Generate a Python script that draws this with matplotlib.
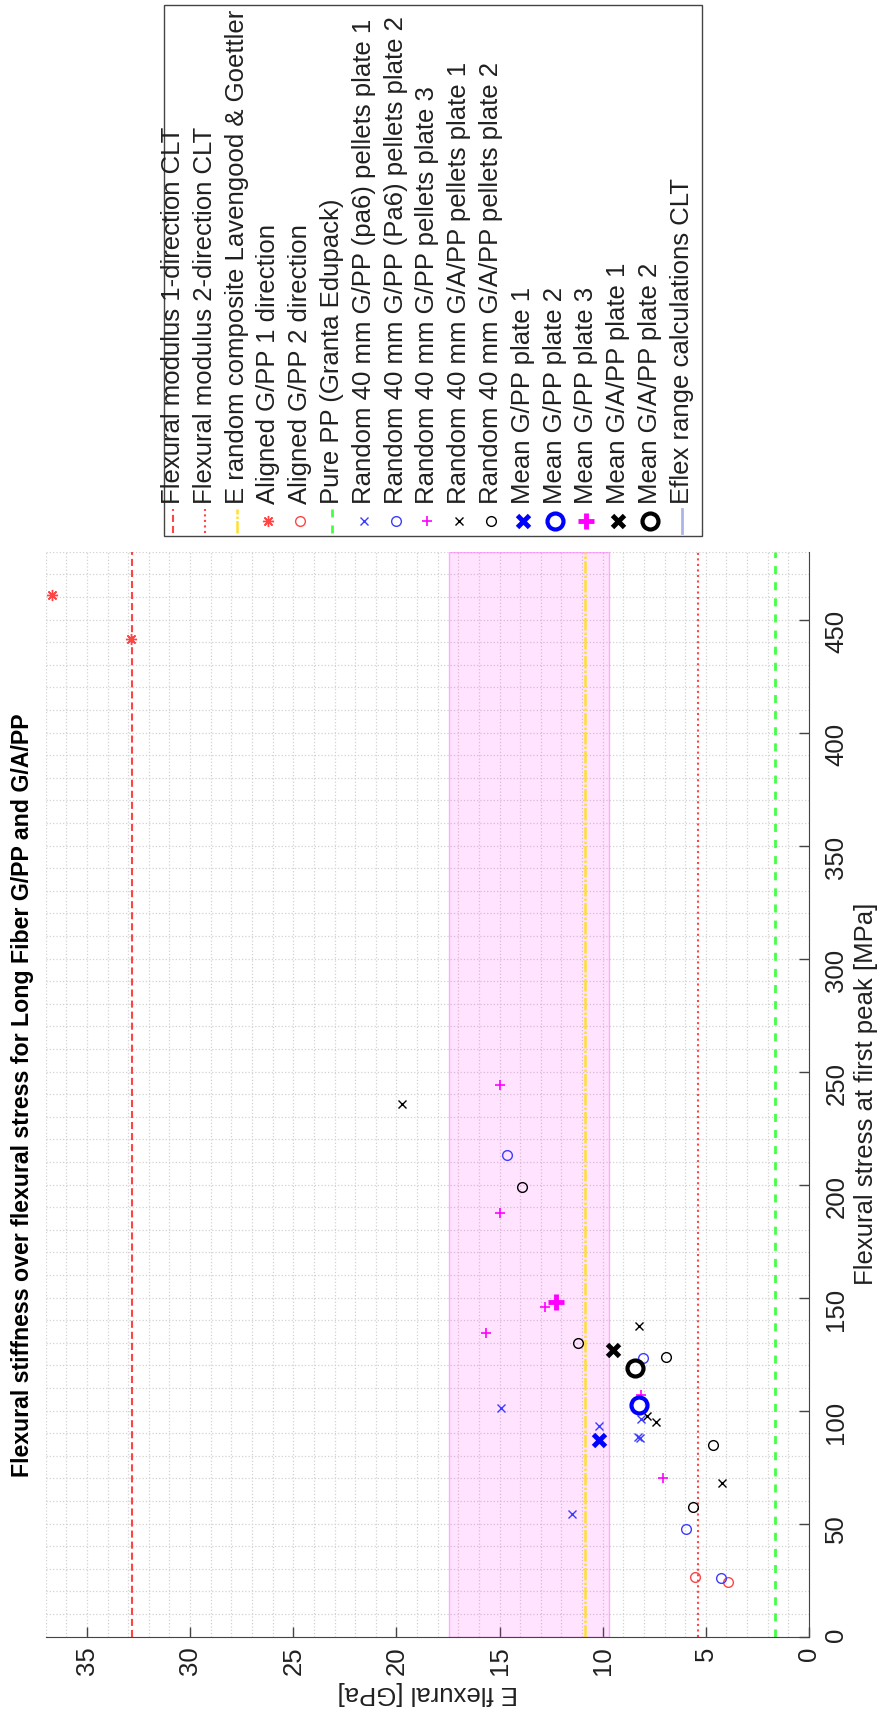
import numpy as np
import matplotlib
matplotlib.use('Agg')
import matplotlib.pyplot as plt
from matplotlib.lines import Line2D
from matplotlib.patches import Rectangle
from matplotlib.ticker import MultipleLocator

plt.rcParams['font.family'] = ['Liberation Sans', 'DejaVu Sans']
plt.rcParams['font.size'] = 18.5

# reference moduli [GPa]
E_clt_1 = 32.8
E_clt_2 = 5.36
E_lavengood = 10.84
E_pure_pp = 1.66
E_range_clt = [9.68, 17.43]

# aligned G/PP (stress [MPa], E [GPa])
aligned1_stress = [441.3, 461.0]
aligned1_E = [32.87, 36.7]
aligned2_stress = [26.5, 24.2]
aligned2_E = [5.52, 3.91]

# random 40 mm pellets plates
gpp1_stress = [101.2, 93.1, 96.5, 88.4, 88.0, 54.5]
gpp1_E = [14.91, 10.20, 8.13, 8.30, 8.20, 11.47]
gpp2_stress = [213.1, 123.5, 47.7, 25.9]
gpp2_E = [14.63, 8.05, 5.95, 4.27]
gpp3_stress = [244.2, 187.4, 145.9, 134.5, 106.8, 70.2]
gpp3_E = [14.96, 14.96, 12.78, 15.64, 8.15, 7.10]
gapp1_stress = [235.5, 137.5, 97.7, 94.8, 68.1]
gapp1_E = [19.72, 8.26, 7.83, 7.41, 4.23]
gapp2_stress = [198.9, 130.1, 123.8, 84.6, 57.5]
gapp2_E = [13.89, 11.20, 6.94, 4.63, 5.60]

legend_labels = [
    'Flexural modulus 1-direction CLT',
    'Flexural modulus 2-direction CLT',
    'E random composite Lavengood & Goettler',
    'Aligned G/PP 1 direction',
    'Aligned G/PP 2 direction',
    'Pure PP (Granta Edupack)',
    'Random 40 mm G/PP (pa6) pellets plate 1',
    'Random 40 mm G/PP (Pa6) pellets plate 2',
    'Random 40 mm G/PP pellets plate 3',
    'Random 40 mm G/A/PP pellets plate 1',
    'Random 40 mm G/A/PP pellets plate 2',
    'Mean G/PP plate 1',
    'Mean G/PP plate 2',
    'Mean G/PP plate 3',
    'Mean G/A/PP plate 1',
    'Mean G/A/PP plate 2',
    'Eflex range calculations CLT',
]

W, H = 893, 1717
fig = plt.figure(figsize=(W / 100, H / 100), dpi=100)
# figure is laid out turned by 90 degrees: E runs right-to-left, stress bottom-to-top
ax = fig.add_axes([45.7 / W, 1 - 1636.7 / H, (809 - 45.7) / W, (1636.7 - 551.7) / H])

red = '#ff4444'
blue_s = '#3c3cff'
handles = []
handles.append(ax.axvline(E_clt_1, color=red, lw=1.5, dashes=(3.4, 1.9), zorder=2))
handles.append(ax.axvline(E_clt_2, color=red, lw=1.5, ls=':', zorder=2))
handles.append(ax.axvline(E_lavengood, color='#ffe030', lw=1.8, dashes=(5, 0.8, 1, 0.8), zorder=2))
handles.append(ax.plot(aligned1_E, aligned1_stress, ls='none', marker=(8, 2, 0), ms=8, mew=1, color=red, zorder=4)[0])
handles.append(ax.plot(aligned2_E, aligned2_stress, ls='none', marker='o', ms=7, mew=1, mfc='none', mec=red, zorder=4)[0])
handles.append(ax.axvline(E_pure_pp, color='#44ff44', lw=2, dashes=(2.9, 2.9), zorder=2))

handles.append(ax.plot(gpp1_E, gpp1_stress, ls='none', marker='x', ms=5.5, mew=1, color=blue_s, zorder=4)[0])
handles.append(ax.plot(gpp2_E, gpp2_stress, ls='none', marker='o', ms=7, mew=1, mfc='none', mec=blue_s, zorder=4)[0])
handles.append(ax.plot(gpp3_E, gpp3_stress, ls='none', marker='+', ms=7.5, mew=1.2, color='#ff00ff', zorder=4)[0])
handles.append(ax.plot(gapp1_E, gapp1_stress, ls='none', marker='x', ms=5.5, mew=1, color='k', zorder=4)[0])
handles.append(ax.plot(gapp2_E, gapp2_stress, ls='none', marker='o', ms=7, mew=1, mfc='none', mec='k', zorder=4)[0])

# plate means
handles.append(ax.plot(np.mean(gpp1_E), np.mean(gpp1_stress), ls='none', marker='x', ms=9, mew=3.5, color='#0000ff', zorder=5)[0])
handles.append(ax.plot(np.mean(gpp2_E), np.mean(gpp2_stress), ls='none', marker='o', ms=11.5, mew=3, mfc='none', mec='#0000ff', zorder=5)[0])
handles.append(ax.plot(np.mean(gpp3_E), np.mean(gpp3_stress), ls='none', marker='+', ms=11, mew=3.5, color='#ff00ff', zorder=5)[0])
handles.append(ax.plot(np.mean(gapp1_E), np.mean(gapp1_stress), ls='none', marker='x', ms=9, mew=3.5, color='k', zorder=5)[0])
handles.append(ax.plot(np.mean(gapp2_E), np.mean(gapp2_stress), ls='none', marker='o', ms=11.5, mew=3, mfc='none', mec='k', zorder=5)[0])

ax.axvspan(*E_range_clt, facecolor=(1, 0, 1, 0.11), edgecolor=(1, 0.4, 1, 0.5), lw=1, zorder=1)

ax.set_xlim(37, 0)
ax.set_ylim(0, 480)
ax.set_xticks(np.arange(0, 36, 5))
ax.set_yticks(np.arange(0, 451, 50))
ax.xaxis.set_minor_locator(MultipleLocator(1))
ax.yaxis.set_minor_locator(MultipleLocator(10))
ax.grid(which='both', ls=':', color='#d2d2d2', lw=0.9)
ax.set_axisbelow(True)
ax.yaxis.tick_right()
ax.yaxis.set_label_position('right')
ax.tick_params(which='major', direction='in', length=7, width=1, color='#444444', labelcolor='#202020')
ax.tick_params(which='minor', length=0)
ax.tick_params(axis='x', labelrotation=90, pad=7)
ax.tick_params(axis='y', labelrotation=90, pad=11)
for s in ['top', 'left']:
    ax.spines[s].set_visible(False)
for s in ['bottom', 'right']:
    ax.spines[s].set_color('#444444')
ax.set_xlabel('E flexural [GPa]', rotation=180, labelpad=4, color='#202020')
ax.set_ylabel('Flexural stress at first peak [MPa]', rotation=90, labelpad=4, color='#202020')

fig.text(23 / W, 1 - 1095 / H, 'Flexural stiffness over flexural stress for Long Fiber G/PP and G/A/PP',
         rotation=90, ha='center', va='center', fontweight='bold', fontsize=16.7)

# legend drawn by hand so the entries can be turned with the rest of the plot
lax = fig.add_axes([0, 0, 1, 1])
lax.set_xlim(0, W)
lax.set_ylim(H, 0)
lax.axis('off')
lax.add_patch(Rectangle((164, 5.5), 538, 531, facecolor='white', edgecolor='#444444', lw=1))
for i, lab in enumerate(legend_labels):
    x = 173 + i * 31.8
    if i < len(handles):
        hd = handles[i]
        ln = Line2D([], [])
        ln.update_from(hd)
        if hd.get_linestyle() not in ('None', 'none', ''):
            ln.set_data([x, x], [533, 509])
        else:
            ln.set_data([x], [521])
        ln.set_transform(lax.transData)
        ln.set_clip_on(False)
        lax.add_line(ln)
    else:
        lax.plot([x, x], [533, 509], color='#aab4e8', lw=2)
    lax.text(x, 504, lab, rotation=90, rotation_mode='anchor', ha='left', va='center', color='#202020')

fig.savefig('out.png', dpi=100)
